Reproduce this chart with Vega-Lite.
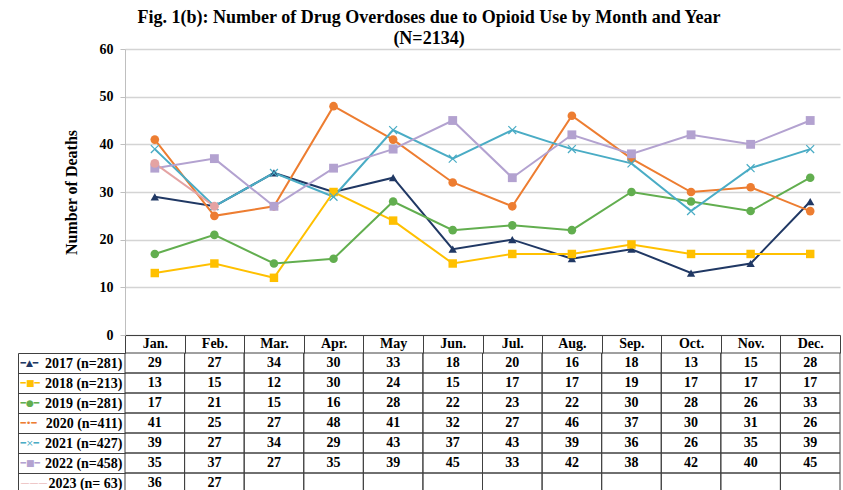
{
  "$schema": "https://vega.github.io/schema/vega-lite/v6.json",
  "padding": {"top": 9, "left": 17, "right": 2, "bottom": 0},
  "title": {"text": ["Fig. 1(b): Number of Drug Overdoses due to Opioid Use by Month and Year", "(N=2134)"], "font": "Liberation Serif", "fontSize": 18, "fontWeight": "bold", "lineHeight": 21, "anchor": "middle", "offset": -6, "color": "#000000"},
  "config": {"view": {"stroke": null}, "font": "Liberation Serif"},
  "bounds": "flush",
  "spacing": 18,
  "datasets": {"d": [
    {"series": "2017 (n=281)", "month": "Jan.", "value": 29}, {"series": "2017 (n=281)", "month": "Feb.", "value": 27}, {"series": "2017 (n=281)", "month": "Mar.", "value": 34}, {"series": "2017 (n=281)", "month": "Apr.", "value": 30}, {"series": "2017 (n=281)", "month": "May", "value": 33}, {"series": "2017 (n=281)", "month": "Jun.", "value": 18}, {"series": "2017 (n=281)", "month": "Jul.", "value": 20}, {"series": "2017 (n=281)", "month": "Aug.", "value": 16}, {"series": "2017 (n=281)", "month": "Sep.", "value": 18}, {"series": "2017 (n=281)", "month": "Oct.", "value": 13}, {"series": "2017 (n=281)", "month": "Nov.", "value": 15}, {"series": "2017 (n=281)", "month": "Dec.", "value": 28},
    {"series": "2018 (n=213)", "month": "Jan.", "value": 13}, {"series": "2018 (n=213)", "month": "Feb.", "value": 15}, {"series": "2018 (n=213)", "month": "Mar.", "value": 12}, {"series": "2018 (n=213)", "month": "Apr.", "value": 30}, {"series": "2018 (n=213)", "month": "May", "value": 24}, {"series": "2018 (n=213)", "month": "Jun.", "value": 15}, {"series": "2018 (n=213)", "month": "Jul.", "value": 17}, {"series": "2018 (n=213)", "month": "Aug.", "value": 17}, {"series": "2018 (n=213)", "month": "Sep.", "value": 19}, {"series": "2018 (n=213)", "month": "Oct.", "value": 17}, {"series": "2018 (n=213)", "month": "Nov.", "value": 17}, {"series": "2018 (n=213)", "month": "Dec.", "value": 17},
    {"series": "2019 (n=281)", "month": "Jan.", "value": 17}, {"series": "2019 (n=281)", "month": "Feb.", "value": 21}, {"series": "2019 (n=281)", "month": "Mar.", "value": 15}, {"series": "2019 (n=281)", "month": "Apr.", "value": 16}, {"series": "2019 (n=281)", "month": "May", "value": 28}, {"series": "2019 (n=281)", "month": "Jun.", "value": 22}, {"series": "2019 (n=281)", "month": "Jul.", "value": 23}, {"series": "2019 (n=281)", "month": "Aug.", "value": 22}, {"series": "2019 (n=281)", "month": "Sep.", "value": 30}, {"series": "2019 (n=281)", "month": "Oct.", "value": 28}, {"series": "2019 (n=281)", "month": "Nov.", "value": 26}, {"series": "2019 (n=281)", "month": "Dec.", "value": 33},
    {"series": "2020 (n=411)", "month": "Jan.", "value": 41}, {"series": "2020 (n=411)", "month": "Feb.", "value": 25}, {"series": "2020 (n=411)", "month": "Mar.", "value": 27}, {"series": "2020 (n=411)", "month": "Apr.", "value": 48}, {"series": "2020 (n=411)", "month": "May", "value": 41}, {"series": "2020 (n=411)", "month": "Jun.", "value": 32}, {"series": "2020 (n=411)", "month": "Jul.", "value": 27}, {"series": "2020 (n=411)", "month": "Aug.", "value": 46}, {"series": "2020 (n=411)", "month": "Sep.", "value": 37}, {"series": "2020 (n=411)", "month": "Oct.", "value": 30}, {"series": "2020 (n=411)", "month": "Nov.", "value": 31}, {"series": "2020 (n=411)", "month": "Dec.", "value": 26},
    {"series": "2021 (n=427)", "month": "Jan.", "value": 39}, {"series": "2021 (n=427)", "month": "Feb.", "value": 27}, {"series": "2021 (n=427)", "month": "Mar.", "value": 34}, {"series": "2021 (n=427)", "month": "Apr.", "value": 29}, {"series": "2021 (n=427)", "month": "May", "value": 43}, {"series": "2021 (n=427)", "month": "Jun.", "value": 37}, {"series": "2021 (n=427)", "month": "Jul.", "value": 43}, {"series": "2021 (n=427)", "month": "Aug.", "value": 39}, {"series": "2021 (n=427)", "month": "Sep.", "value": 36}, {"series": "2021 (n=427)", "month": "Oct.", "value": 26}, {"series": "2021 (n=427)", "month": "Nov.", "value": 35}, {"series": "2021 (n=427)", "month": "Dec.", "value": 39},
    {"series": "2022 (n=458)", "month": "Jan.", "value": 35}, {"series": "2022 (n=458)", "month": "Feb.", "value": 37}, {"series": "2022 (n=458)", "month": "Mar.", "value": 27}, {"series": "2022 (n=458)", "month": "Apr.", "value": 35}, {"series": "2022 (n=458)", "month": "May", "value": 39}, {"series": "2022 (n=458)", "month": "Jun.", "value": 45}, {"series": "2022 (n=458)", "month": "Jul.", "value": 33}, {"series": "2022 (n=458)", "month": "Aug.", "value": 42}, {"series": "2022 (n=458)", "month": "Sep.", "value": 38}, {"series": "2022 (n=458)", "month": "Oct.", "value": 42}, {"series": "2022 (n=458)", "month": "Nov.", "value": 40}, {"series": "2022 (n=458)", "month": "Dec.", "value": 45},
    {"series": "2023 (n= 63)", "month": "Jan.", "value": 36}, {"series": "2023 (n= 63)", "month": "Feb.", "value": 27}, {"series": "2023 (n= 63)", "month": "Mar.", "value": null}, {"series": "2023 (n= 63)", "month": "Apr.", "value": null}, {"series": "2023 (n= 63)", "month": "May", "value": null}, {"series": "2023 (n= 63)", "month": "Jun.", "value": null}, {"series": "2023 (n= 63)", "month": "Jul.", "value": null}, {"series": "2023 (n= 63)", "month": "Aug.", "value": null}, {"series": "2023 (n= 63)", "month": "Sep.", "value": null}, {"series": "2023 (n= 63)", "month": "Oct.", "value": null}, {"series": "2023 (n= 63)", "month": "Nov.", "value": null}, {"series": "2023 (n= 63)", "month": "Dec.", "value": null}
  ]},
  "vconcat": [
    {
      "width": 715,
      "height": 286,
      "data": {"name": "d"},
      "transform": [{"filter": "isValid(datum.value)"}],
      "encoding": {
        "x": {"field": "month", "type": "ordinal", "sort": ["Jan.", "Feb.", "Mar.", "Apr.", "May", "Jun.", "Jul.", "Aug.", "Sep.", "Oct.", "Nov.", "Dec."],
          "scale": {"type": "band", "paddingInner": 0, "paddingOuter": 0},
          "axis": {"title": null, "orient": "bottom", "domain": true, "domainColor": "#404040", "domainWidth": 1, "ticks": true, "tickBand": "extent", "tickSize": 18, "tickColor": "#404040", "tickWidth": 1, "labelFont": "Liberation Serif", "labelFontSize": 14, "labelFontWeight": "bold", "labelColor": "#000000", "labelPadding": -16.5, "labelAngle": 0, "grid": false}},
        "y": {"field": "value", "type": "quantitative", "scale": {"domain": [0, 60]},
          "axis": {"title": "Number of Deaths", "titleFont": "Liberation Serif", "titleFontSize": 16, "titleFontWeight": "bold", "titleColor": "#000000", "titlePadding": 20, "values": [0, 10, 20, 30, 40, 50, 60], "labelFont": "Liberation Serif", "labelFontSize": 14, "labelFontWeight": "bold", "labelColor": "#000000", "labelPadding": 7, "tickSize": 5, "tickColor": "#BFBFBF", "domainColor": "#BFBFBF", "gridColor": "#D4D4D4", "gridWidth": 1.5}},
        "color": {"field": "series", "type": "nominal",
          "scale": {"domain": ["2017 (n=281)", "2018 (n=213)", "2019 (n=281)", "2020 (n=411)", "2021 (n=427)", "2022 (n=458)", "2023 (n= 63)"],
            "range": ["#203864", "#FFC000", "#62AE4F", "#ED7D31", "#4AACC5", "#B3A2D0", "#E4A3A3"]},
          "legend": null}
      },
      "layer": [
        {"mark": {"type": "line"},
         "encoding": {"strokeWidth": {"field": "series", "type": "ordinal", "scale": {"domain": ["2017 (n=281)", "2018 (n=213)", "2019 (n=281)", "2020 (n=411)", "2021 (n=427)", "2022 (n=458)", "2023 (n= 63)"], "range": [2, 2, 2, 2, 2, 2, 1.3]}, "legend": null}}},
        {"mark": {"type": "point", "filled": true, "opacity": 1},
         "encoding": {
           "shape": {"field": "series", "type": "nominal", "scale": {"domain": ["2017 (n=281)", "2018 (n=213)", "2019 (n=281)", "2020 (n=411)", "2021 (n=427)", "2022 (n=458)", "2023 (n= 63)"], "range": ["triangle-up", "square", "circle", "circle", "M-1,-0.8L-0.8,-1L0,-0.2L0.8,-1L1,-0.8L0.2,0L1,0.8L0.8,1L0,0.2L-0.8,1L-1,0.8L-0.2,0Z", "square", "circle"]}, "legend": null},
           "size": {"field": "series", "type": "ordinal", "scale": {"domain": ["2017 (n=281)", "2018 (n=213)", "2019 (n=281)", "2020 (n=411)", "2021 (n=427)", "2022 (n=458)", "2023 (n= 63)"], "range": [70, 80, 50, 22, 30, 40, 0]}, "legend": null}
         }}
      ]
    },
    {
      "width": 715,
      "height": 140,
      "data": {"name": "d"},
      "layer": [
        {"mark": {"type": "rect", "filled": false, "stroke": "#404040", "strokeWidth": 1},
         "encoding": {
           "x": {"field": "month", "type": "ordinal", "sort": ["Jan.", "Feb.", "Mar.", "Apr.", "May", "Jun.", "Jul.", "Aug.", "Sep.", "Oct.", "Nov.", "Dec."], "scale": {"type": "band", "paddingInner": 0, "paddingOuter": 0}, "axis": null},
           "y": {"field": "series", "type": "nominal", "sort": ["2017 (n=281)", "2018 (n=213)", "2019 (n=281)", "2020 (n=411)", "2021 (n=427)", "2022 (n=458)", "2023 (n= 63)"], "scale": {"type": "band", "paddingInner": 0, "paddingOuter": 0},
             "axis": {"orient": "left", "title": null, "domain": false, "ticks": true, "tickBand": "extent", "tickSize": 107, "tickColor": "#404040", "tickWidth": 1, "labelPadding": -104, "labelAlign": "right", "labelBaseline": "middle", "labelFont": "Liberation Serif", "labelFontSize": 14, "labelFontWeight": "bold", "labelColor": "#000000", "grid": false}}
         }},
        {"transform": [{"filter": "isValid(datum.value)"}],
         "mark": {"type": "text", "font": "Liberation Serif", "fontSize": 14, "fontWeight": "bold", "color": "#000000", "baseline": "middle"},
         "encoding": {
           "x": {"field": "month", "type": "ordinal", "sort": ["Jan.", "Feb.", "Mar.", "Apr.", "May", "Jun.", "Jul.", "Aug.", "Sep.", "Oct.", "Nov.", "Dec."], "scale": {"type": "band", "paddingInner": 0, "paddingOuter": 0}, "axis": null},
           "y": {"field": "series", "type": "nominal", "sort": ["2017 (n=281)", "2018 (n=213)", "2019 (n=281)", "2020 (n=411)", "2021 (n=427)", "2022 (n=458)", "2023 (n= 63)"], "scale": {"type": "band", "paddingInner": 0, "paddingOuter": 0},
             "axis": {"orient": "left", "title": null, "offset": 107, "domain": true, "domainColor": "#404040", "domainWidth": 1, "ticks": false, "tickSize": 0, "labelAlign": "left", "labelPadding": -2, "labelBaseline": "middle", "labelFont": "DejaVu Sans", "labelFontSize": 9, "grid": false,
               "labelExpr": "{'2017 (n=281)': '━▲━', '2018 (n=213)': '━■━', '2019 (n=281)': '━●━', '2020 (n=411)': '━•━', '2021 (n=427)': '━×━', '2022 (n=458)': '━■━', '2023 (n= 63)': '———'}[datum.value]",
               "labelColor": {"condition": [
                 {"test": "datum.value == '2017 (n=281)'", "value": "#203864"},
                 {"test": "datum.value == '2018 (n=213)'", "value": "#FFC000"},
                 {"test": "datum.value == '2019 (n=281)'", "value": "#62AE4F"},
                 {"test": "datum.value == '2020 (n=411)'", "value": "#ED7D31"},
                 {"test": "datum.value == '2021 (n=427)'", "value": "#4AACC5"},
                 {"test": "datum.value == '2022 (n=458)'", "value": "#B3A2D0"}
               ], "value": "#E4A3A3"}}},
           "text": {"field": "value", "type": "quantitative"}
         }}
      ],
      "resolve": {"axis": {"y": "independent"}}
    }
  ]
}
